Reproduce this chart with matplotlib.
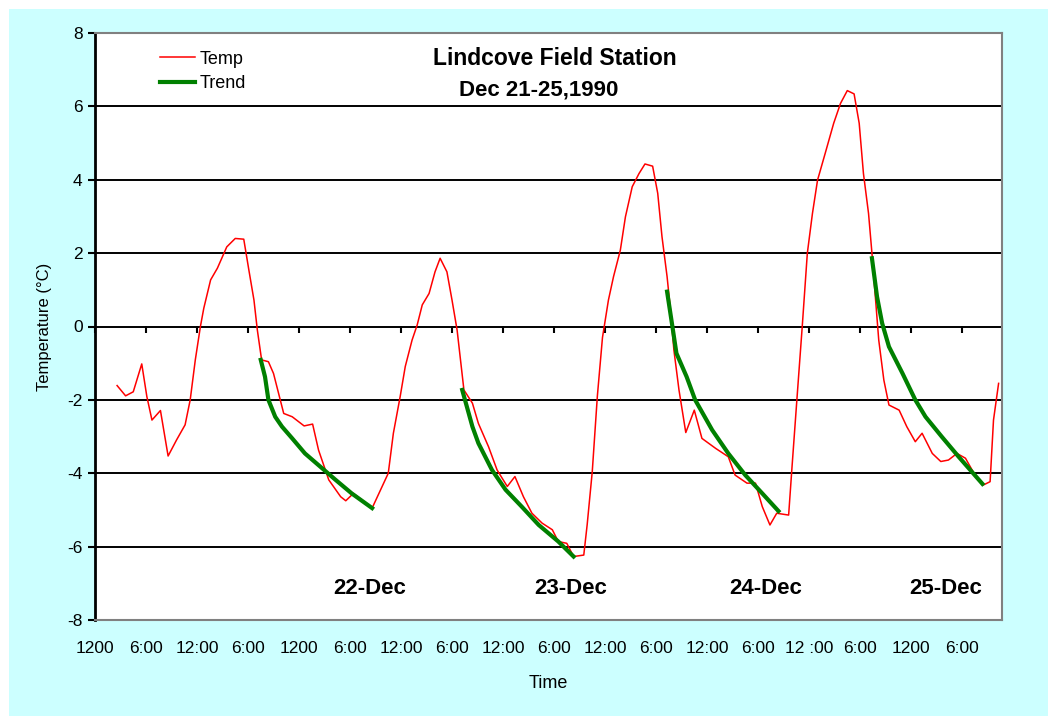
import numpy as np
import matplotlib
matplotlib.use('Agg')
import matplotlib.pyplot as plt
from matplotlib.patches import Rectangle

plt.rcParams['font.family'] = ['Liberation Sans', 'DejaVu Sans']
plt.rcParams['axes.unicode_minus'] = False

# hours after noon, Dec 21
hours = [2.6, 3.6, 4.5, 5.5, 6.1, 6.7, 7.7, 8.6, 9.6, 10.6, 11.2, 11.8, 12.4, 12.8,
         13.6, 14.4, 15.5, 16.5, 17.5, 18.1, 18.7, 19.1, 19.6, 20.4, 21.0, 22.2, 23.2,
         24.6, 25.6, 26.3, 27.5, 28.9, 29.5, 30.4, 32.6, 34.5, 35.1, 35.9, 36.5, 37.3,
         37.9, 38.5, 39.3, 40.0, 40.6, 41.4, 42.0, 42.6, 43.4, 44.4, 45.1, 46.3, 47.3,
         48.5, 49.4, 50.4, 51.4, 52.6, 53.8, 54.5, 55.5, 56.3, 57.5, 57.9, 58.5, 59.1,
         59.7, 60.4, 61.0, 61.8, 62.4, 63.2, 64.0, 64.7, 65.6, 66.2, 66.7, 67.3, 67.7,
         68.1, 68.7, 69.5, 70.5, 71.4, 73.0, 74.5, 75.3, 76.7, 77.7, 78.5, 79.4, 80.2,
         81.6, 82.0, 82.6, 83.2, 83.8, 84.4, 85.0, 85.9, 86.9, 87.7, 88.5, 89.3, 89.9,
         90.4, 91.0, 91.4, 91.8, 92.2, 92.8, 93.4, 94.6, 95.5, 96.5, 97.3, 98.5, 99.5,
         100.4, 101.4, 102.4, 103.4, 104.5, 105.3, 105.7, 106.3]
temps = [-1.61, -1.89, -1.78, -1.02, -1.91, -2.55, -2.29, -3.53, -3.09, -2.68, -2.0, -0.91,
         0.0, 0.5, 1.27, 1.59, 2.17, 2.40, 2.38, 1.54, 0.72, -0.1, -0.91, -0.96, -1.28,
         -2.37, -2.46, -2.71, -2.66, -3.37, -4.18, -4.64, -4.75, -4.55, -4.95, -4.0, -2.91,
         -1.91, -1.09, -0.37, 0.04, 0.59, 0.9, 1.49, 1.86, 1.49, 0.72, -0.1, -1.73, -2.09,
         -2.64, -3.28, -3.91, -4.36, -4.09, -4.64, -5.09, -5.36, -5.54, -5.86, -5.91, -6.27,
         -6.23, -5.4, -3.95, -1.89, -0.3, 0.72, 1.36, 2.08, 2.99, 3.81, 4.17, 4.43, 4.37,
         3.63, 2.45, 1.36, 0.45, -0.64, -1.73, -2.89, -2.28, -3.05, -3.32, -3.55, -4.05,
         -4.27, -4.27, -4.91, -5.41, -5.09, -5.14, -3.82, -1.9, 0.0, 2.0, 3.08, 3.99, 4.72,
         5.54, 6.08, 6.43, 6.34, 5.54, 4.17, 3.08, 2.0, 0.81, -0.37, -1.46, -2.14, -2.28,
         -2.73, -3.14, -2.91, -3.46, -3.68, -3.64, -3.46, -3.59, -4.0, -4.32, -4.23, -2.55,
         -1.55]

# night-time cooling trend, four pieces separated by nan
trend_hours = [19.5, 20.0, 20.4, 21.2, 22.0, 23.2, 24.7, 26.7, 28.3, 30.2, 32.6, np.nan,
               43.2, 44.4, 45.1, 46.7, 48.3, 50.2, 52.2, 54.5, 56.3, np.nan,
               67.3, 67.9, 68.4, 69.6, 70.6, 72.6, 74.5, 76.5, 78.5, 80.4, np.nan,
               91.4, 92.0, 92.6, 93.4, 95.0, 96.5, 97.7, 99.6, 101.6, 104.4]
trend_temps = [-0.91, -1.37, -2.0, -2.46, -2.73, -3.05, -3.46, -3.86, -4.18, -4.55, -4.95, np.nan,
               -1.73, -2.73, -3.18, -3.91, -4.45, -4.91, -5.41, -5.86, -6.27, np.nan,
               0.95, 0.04, -0.73, -1.37, -2.0, -2.82, -3.46, -4.05, -4.55, -5.03, np.nan,
               1.86, 0.81, 0.09, -0.55, -1.28, -2.0, -2.46, -3.0, -3.55, -4.29]

tick_hours = list(range(0, 103, 6))
tick_labels = ['1200', '6:00', '12:00', '6:00', '1200', '6:00', '12:00', '6:00', '12:00',
               '6:00', '12:00', '6:00', '12:00', '6:00', '12 :00', '6:00', '1200', '6:00']
day_labels = ['22-Dec', '23-Dec', '24-Dec', '25-Dec']
day_label_hours = [32.3, 56.0, 78.9, 100.1]

fig = plt.figure(figsize=(10.48, 7.16), dpi=100)
fig.patch.set_facecolor('white')
fig.patches.append(Rectangle((9 / 1048, 0), 1, 1 - 9 / 716, transform=fig.transFigure,
                             facecolor='#CCFFFF', edgecolor='none', zorder=-5))

ax = fig.add_axes([95 / 1048, 1 - 620 / 716, 907 / 1048, 587 / 716])
ax.set_facecolor('white')

ax.plot(hours, temps, color='#FF0000', lw=1.1, label='Temp', zorder=3)
ax.plot(trend_hours, trend_temps, color='#008000', lw=3, label='Trend', zorder=4)

ax.set_xlim(0, 106.7)
ax.set_ylim(-8, 8)
ax.set_yticks(range(-8, 9, 2))
for v in range(-6, 7, 2):
    ax.axhline(v, color='black', lw=1.4, zorder=1)

ax.set_xticks(tick_hours)
ax.set_xticklabels(tick_labels, fontsize=12.5)
ax.tick_params(axis='x', length=0, pad=15)
ax.tick_params(axis='y', direction='out', length=5, width=1.5, labelsize=12.5, pad=4)

# tick marks on the zero line
sec = ax.secondary_xaxis(0, transform=ax.transData)
sec.set_xticks(tick_hours)
sec.tick_params(axis='x', direction='out', length=5, width=1.5, labelbottom=False,
                labeltop=False)
for s in sec.spines.values():
    s.set_visible(False)

for side in ['top', 'right', 'bottom']:
    ax.spines[side].set_color('#808080')
    ax.spines[side].set_linewidth(1.5)
ax.spines['left'].set_color('black')
ax.spines['left'].set_linewidth(2)

for lab, h in zip(day_labels, day_label_hours):
    ax.text(h, -7.13, lab, fontsize=16, fontweight='bold', ha='center', va='center')

ax.text(0.507, 0.957, 'Lindcove Field Station', transform=ax.transAxes, fontsize=16.5,
        fontweight='bold', ha='center', va='center')
ax.text(0.4895, 0.903, 'Dec 21-25,1990', transform=ax.transAxes, fontsize=16,
        fontweight='bold', ha='center', va='center')

ax.set_xlabel('Time', fontsize=13)
ax.xaxis.set_label_coords(0.4995, -0.094)
ax.set_ylabel('Temperature (°C)', fontsize=12)
ax.yaxis.set_label_coords(-0.047, 0.5)

ax.legend(loc='upper left', bbox_to_anchor=(0.064, 0.982), frameon=False, fontsize=13,
          handlelength=1.9, handletextpad=0.3, labelspacing=0.4, borderaxespad=0)

fig.savefig('out.png', dpi=100)
